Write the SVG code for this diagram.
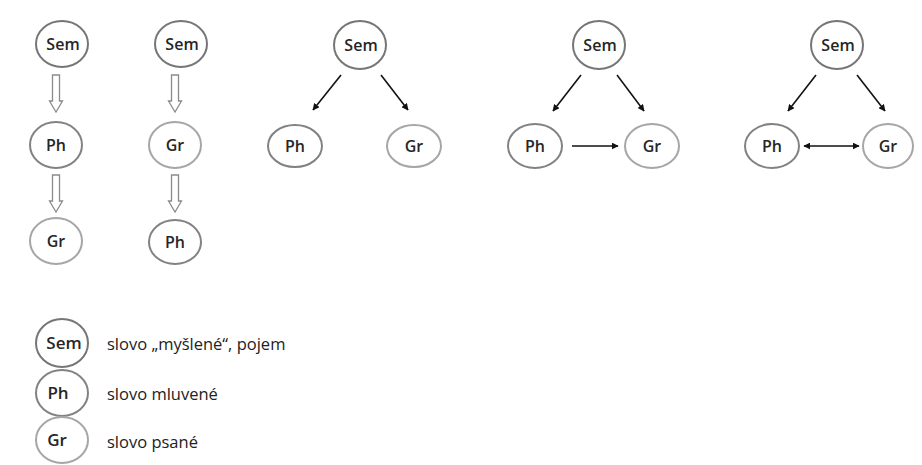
<svg xmlns="http://www.w3.org/2000/svg" width="922" height="465" viewBox="0 0 922 465">
  <style>
    .node ellipse { fill: #ffffff; stroke-width: 2; }
    .sem ellipse { stroke: #767676; }
    .ph ellipse { stroke: #828282; }
    .gr ellipse { stroke: #a6a6a6; }
    .node text { font-family: "Open Sans", "Liberation Sans", sans-serif; font-size: 16px; font-weight: 600; fill: #262626; text-anchor: middle; }
    .key text { font-size: 17px; }
    .caption text { font-family: "Open Sans", "Liberation Sans", sans-serif; font-size: 16.5px; fill: #222222; }
    .line { stroke: #111111; stroke-width: 1.6; fill: none; }
    .hollow { fill: #ffffff; stroke: #8a8a8a; stroke-width: 1.3; stroke-linejoin: miter; }
  </style>
  <defs>
    <marker id="head" viewBox="0 0 10 10" refX="9" refY="5" markerWidth="7" markerHeight="7" orient="auto-start-reverse" markerUnits="userSpaceOnUse">
      <path d="M0,0 L10,5 L0,10 z" fill="#111111"/>
    </marker>
    <!-- hollow block arrow pointing down, tip at origin -->
    <path id="block" d="M-3.5,-37 L3.5,-37 L3.5,-11 L6.5,-11 L0,0 L-6.5,-11 L-3.5,-11 z"/>
  </defs>
  <rect width="922" height="465" fill="#ffffff"/>

  <!-- connectors -->
  <g id="connectors">
    <use href="#block" x="56" y="112" class="hollow"/>
    <use href="#block" x="56" y="212" class="hollow"/>
    <use href="#block" x="175" y="112" class="hollow"/>
    <use href="#block" x="175" y="212" class="hollow"/>
    <line class="line" x1="341" y1="75" x2="313" y2="110" marker-end="url(#head)"/>
    <line class="line" x1="381" y1="75" x2="408" y2="110" marker-end="url(#head)"/>
    <line class="line" x1="581" y1="75" x2="553" y2="111" marker-end="url(#head)"/>
    <line class="line" x1="617" y1="75" x2="644" y2="111" marker-end="url(#head)"/>
    <line class="line" x1="572" y1="146" x2="618" y2="146" marker-end="url(#head)"/>
    <line class="line" x1="816" y1="75" x2="788" y2="111" marker-end="url(#head)"/>
    <line class="line" x1="857" y1="75" x2="885" y2="111" marker-end="url(#head)"/>
    <line class="line" x1="804" y1="146" x2="859" y2="146" marker-start="url(#head)" marker-end="url(#head)"/>
  </g>

  <!-- chain 1: Sem -> Ph -> Gr -->
  <g id="c1-sem" class="node sem"><ellipse cx="62" cy="44" rx="26" ry="23"/><text x="63" y="50">Sem</text></g>
  <g id="c1-ph" class="node ph"><ellipse cx="56" cy="145" rx="26" ry="23"/><text x="56" y="151">Ph</text></g>
  <g id="c1-gr" class="node gr"><ellipse cx="56" cy="241" rx="26" ry="23"/><text x="56" y="247">Gr</text></g>

  <!-- chain 2: Sem -> Gr -> Ph -->
  <g id="c2-sem" class="node sem"><ellipse cx="181" cy="44" rx="26" ry="23"/><text x="182" y="50">Sem</text></g>
  <g id="c2-gr" class="node gr"><ellipse cx="175" cy="145" rx="26" ry="23"/><text x="175" y="151">Gr</text></g>
  <g id="c2-ph" class="node ph"><ellipse cx="175" cy="242" rx="26" ry="22"/><text x="175" y="248">Ph</text></g>

  <!-- triangle 1 -->
  <g id="t1-sem" class="node sem"><ellipse cx="360" cy="45" rx="26" ry="24"/><text x="361" y="51">Sem</text></g>
  <g id="t1-ph" class="node ph"><ellipse cx="295" cy="146" rx="27" ry="21"/><text x="295" y="152">Ph</text></g>
  <g id="t1-gr" class="node gr"><ellipse cx="414" cy="146" rx="27" ry="21"/><text x="414" y="152">Gr</text></g>

  <!-- triangle 2 -->
  <g id="t2-sem" class="node sem"><ellipse cx="599" cy="45" rx="26" ry="24"/><text x="600" y="51">Sem</text></g>
  <g id="t2-ph" class="node ph"><ellipse cx="535" cy="146" rx="27" ry="22"/><text x="535" y="152">Ph</text></g>
  <g id="t2-gr" class="node gr"><ellipse cx="652" cy="146" rx="27" ry="22"/><text x="652" y="152">Gr</text></g>

  <!-- triangle 3 -->
  <g id="t3-sem" class="node sem"><ellipse cx="837" cy="45" rx="26" ry="24"/><text x="838" y="51">Sem</text></g>
  <g id="t3-ph" class="node ph"><ellipse cx="772" cy="146" rx="27" ry="22"/><text x="772" y="152">Ph</text></g>
  <g id="t3-gr" class="node gr"><ellipse cx="888" cy="146" rx="25" ry="22"/><text x="888" y="152">Gr</text></g>

  <!-- legend -->
  <g id="legend-sem" class="node sem key"><ellipse cx="62" cy="343" rx="26" ry="24"/><text x="64" y="349">Sem</text></g>
  <g id="legend-ph" class="node ph key"><ellipse cx="62" cy="393" rx="26" ry="23"/><text x="58" y="399">Ph</text></g>
  <g id="legend-gr" class="node gr key"><ellipse cx="62" cy="440" rx="26" ry="23"/><text x="57" y="446">Gr</text></g>
  <g id="legend-text" class="caption">
    <text x="107" y="350">slovo „myšlené“, pojem</text>
    <text x="107" y="400">slovo mluvené</text>
    <text x="107" y="448">slovo psané</text>
  </g>
</svg>
